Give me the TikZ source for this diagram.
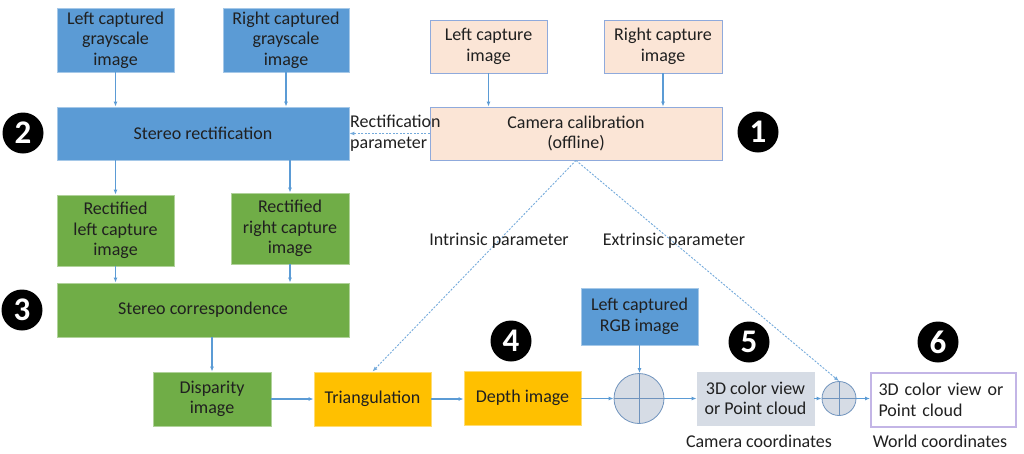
\documentclass[tikz,border=0pt]{standalone}
\usepackage{fontspec}
\setmainfont{Carlito}
\usetikzlibrary{arrows.meta}

\definecolor{boxblue}{HTML}{5B9BD5}
\definecolor{boxgreen}{HTML}{70AD47}
\definecolor{boxorange}{HTML}{FFC000}
\definecolor{boxpeach}{HTML}{FBE5D6}
\definecolor{peachedge}{HTML}{8FAADC}
\definecolor{boxgray}{HTML}{D6DCE5}
\definecolor{sumedge}{HTML}{6F93BD}
\definecolor{worldedge}{HTML}{C3B5E6}
\definecolor{arrowblue}{HTML}{5B9BD5}
\definecolor{textdark}{HTML}{202020}

\begin{document}
\begin{tikzpicture}
    [   x=1pt, y=-1pt,
        box/.style={draw=#1!55!white, fill=#1, line width=0.8pt, align=center, inner sep=0pt,
            text=textdark, minimum width=117pt, minimum height=54pt, font=\fontsize{18}{20.5}\selectfont},
        badge/.style={circle, fill=black, text=white, minimum size=41pt, inner sep=0pt,
            font=\fontsize{33}{33}\selectfont\bfseries},
        sum/.style={circle, draw=sumedge, fill=boxgray, line width=0.8pt, minimum size=#1, inner sep=0pt,
            path picture={\draw[sumedge, line width=0.8pt]
                (path picture bounding box.north) -- (path picture bounding box.south)
                (path picture bounding box.west) -- (path picture bounding box.east);}},
        lbl/.style={inner sep=0pt, text=textdark, font=\fontsize{18}{20.5}\selectfont},
        line/.style={draw=arrowblue, line width=1.1pt, -{Latex[length=5pt,width=4pt]}},
        dline/.style={line, line width=0.9pt, draw=arrowblue!85!white, dash pattern=on 2pt off 1.5pt},
    ]
        \useasboundingbox (0,0) rectangle (1024,453);

        % draw the nodes
        \node[box=boxblue, minimum height=64pt] (lgray) at (115.5,40) {Left captured\\grayscale\\image};
        \node[box=boxblue, minimum width=126pt, minimum height=64pt] (rgray) at (286,40) {Right captured\\grayscale\\image};
        \node[box=boxblue, minimum width=292pt, minimum height=53pt] (rect) at (203,133.5) {Stereo rectification};
        \node[box=boxpeach, draw=peachedge, minimum height=53pt] (lcap) at (488.5,46.5) {Left capture\\image};
        \node[box=boxpeach, draw=peachedge, minimum width=118pt, minimum height=53pt] (rcap) at (663,46.5) {Right capture\\image};
        \node[box=boxpeach, draw=peachedge, minimum width=292pt, minimum height=53pt] (calib) at (576,133.5) {Camera calibration\\(offline)};
        \node[box=boxgreen, minimum height=71pt] (rleft) at (115.5,230.5) {Rectified\\left capture\\image};
        \node[box=boxgreen, minimum width=118pt, minimum height=71pt] (rright) at (290,228.5) {Rectified\\right capture\\image};
        \node[box=boxgreen, minimum width=292pt] (corr) at (203,310) {Stereo correspondence};
        \node[box=boxgreen, minimum width=118pt] (disp) at (212,399) {Disparity\\image};
        \node[box=boxorange] (tri) at (372.5,399) {Triangulation};
        \node[box=boxorange] (depth) at (522.5,398) {Depth image};
        \node[box=boxblue, minimum height=57pt] (rgb) at (639.5,316.5) {Left captured\\RGB image};
        \node[sum=50pt] (plus1) at (639,398.5) {};
        \node[box=boxgray, draw=boxgray, minimum height=53pt] (cam3d) at (755.5,398.5) {3D color view\\or Point cloud};
        \node[sum=34pt] (plus2) at (839,398.5) {};
        \node[box=white, draw=worldedge, line width=2pt, align=left, text width=130pt,
            inner xsep=7.5pt, minimum width=145pt] (world) at (943.5,400) {3D color view or\\Point cloud};

        % draw the badges
        \node[badge] (b1) at (758,132) {1};
        \node[badge] (b2) at (23,133) {2};
        \node[badge] (b3) at (22,310) {3};
        \node[badge] (b4) at (511,341) {4};
        \node[badge] (b5) at (749,342) {5};
        \node[badge] (b6) at (938,342) {6};

        % draw the lines
        \draw[line] (lgray.south) -- (lgray.south |- rect.north);
        \draw[line] (rgray.south) -- (rgray.south |- rect.north);
        \draw[line] (lcap.south) -- (lcap.south |- calib.north);
        \draw[line] (rcap.south) -- (rcap.south |- calib.north);
        \draw[line] (rect.south -| rleft.north) -- (rleft.north);
        \draw[line] (rect.south -| rright.north) -- (rright.north);
        \draw[line] (rleft.south) -- (rleft.south |- corr.north);
        \draw[line] (rright.south) -- (rright.south |- corr.north);
        \draw[line] (corr.south -| disp.north) -- (disp.north);
        \draw[line] (disp.east) -- (tri.west);
        \draw[line] (tri.east) -- (tri.east -| depth.west);
        \draw[line] (depth.east |- plus1.west) -- (plus1.west);
        \draw[line] (rgb.south) -- (rgb.south |- plus1.north);
        \draw[line] (plus1.east) -- (cam3d.west);
        \draw[line] (cam3d.east) -- (plus2.west);
        \draw[line] (plus2.east) -- (plus2.east -| world.west);
        \draw[dline] (calib.west) -- (rect.east);
        \draw[dline] (calib.south) -- (tri.north);
        \draw[dline] (calib.south) -- (plus2.north);

        % draw the labels
        \node[lbl, anchor=west, align=left] (rectpar) at (350,133) {Rectification\\parameter};
        \node[lbl] (intr) at (499,241) {Intrinsic parameter};
        \node[lbl] (extr) at (674,241) {Extrinsic parameter};
        \node[lbl] (camc) at (759,441) {Camera coordinates};
        \node[lbl] (worldc) at (940,441) {World coordinates};
    \end{tikzpicture}
\end{document}
